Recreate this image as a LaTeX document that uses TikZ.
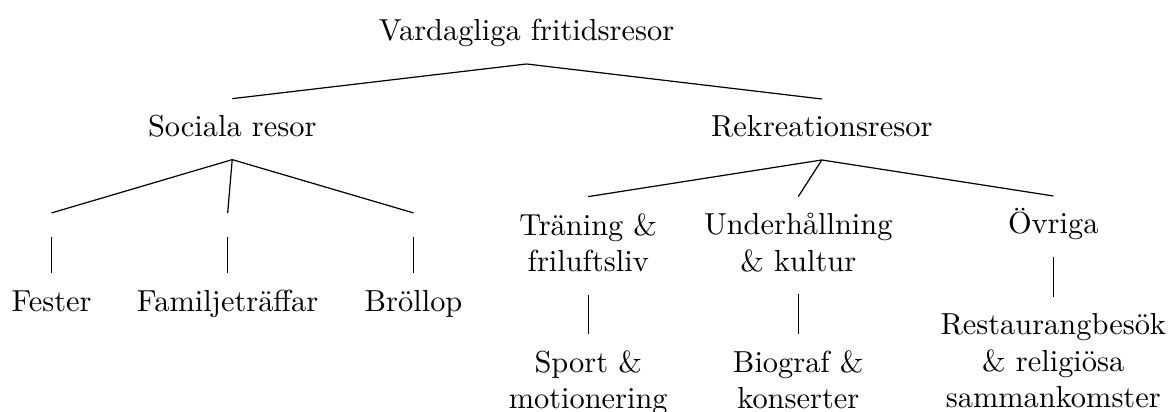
\documentclass[tikz,border=0pt]{standalone}
\usepackage{fontspec}
\usepackage{tikz}

\begin{document}
\begin{tikzpicture}[
  lbl/.style={align=center, anchor=base, inner xsep=0pt, inner ysep=5.3pt, text height=7pt, execute at end node=\vphantom{g}},
  lbls/.style={align=center, anchor=north, inner xsep=0pt, inner ysep=5.3pt, execute at end node=\vphantom{g}},
  gap/.style={inner sep=0pt, minimum height=7.4pt, minimum width=0pt}]
\useasboundingbox (0,0) rectangle (13.55,-4.763);

% top
\node[lbl] (fritid) at (6.087,-0.474) {Vardagliga fritidsresor};
\node[lbl] (sociala) at (2.685,-1.580) {Sociala resor};
\node[lbl] (rekreation) at (9.501,-1.584) {Rekreationsresor};

% sociala resor
\node[gap] (fest0) at (0.596,-2.599) {};
\node[gap] (familj0) at (2.632,-2.599) {};
\node[gap] (brollop0) at (4.781,-2.599) {};
\node[lbl] (fest) at (0.596,-3.596) {Fester};
\node[lbl] (familj) at (2.632,-3.596) {Familjeträffar};
\node[lbl] (brollop) at (4.781,-3.596) {Bröllop};

% rekreationsresor
\node[lbls] (traning) at (6.801,-2.273) {Träning \&\\friluftsliv};
\node[lbls] (noje) at (9.229,-2.273) {Underhållning\\\& kultur};
\node[lbl] (ovriga) at (12.177,-2.705) {Övriga};
\node[lbls] (sport) at (6.801,-3.857) {Sport \&\\motionering};
\node[lbls] (bio) at (9.229,-3.857) {Biograf \&\\konserter};
\node[lbls] (restaurang) at (12.177,-3.435) {Restaurangbesök\\\& religiösa\\sammankomster};

\draw (fritid.south) -- (sociala.north);
\draw (fritid.south) -- (rekreation.north);
\draw (sociala.south) -- (fest0.north);
\draw (sociala.south) -- (familj0.north);
\draw (sociala.south) -- (brollop0.north);
\draw (fest0.south) -- (fest.north);
\draw (familj0.south) -- (familj.north);
\draw (brollop0.south) -- (brollop.north);
\draw (rekreation.south) -- (traning.north);
\draw (rekreation.south) -- (noje.north);
\draw (rekreation.south) -- (ovriga.north);
\draw (traning.south) -- (sport.north);
\draw (noje.south) -- (bio.north);
\draw (ovriga.south) -- (restaurang.north);

\end{tikzpicture}
\end{document}
